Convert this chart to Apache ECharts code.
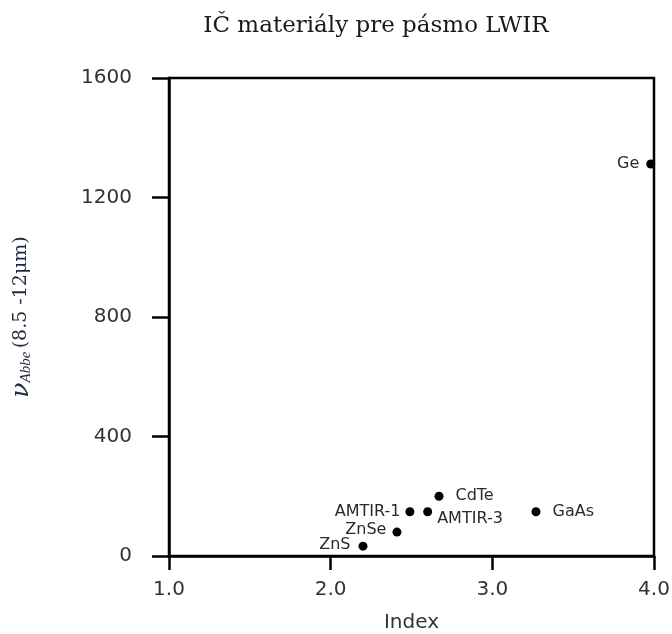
<!DOCTYPE html>
<html>
<head>
<meta charset="utf-8">
<script src="https://cdn.jsdelivr.net/npm/echarts@6/dist/echarts.min.js"></script>
<style>
  html, body { margin: 0; padding: 0; background: #fff; }
  #chart { width: 672px; height: 634px; }
</style>
</head>
<body>
<div id="chart"></div>
<script>
// materiály a ich hodnoty (odčítané z grafu)
var materials = ['Ge', 'CdTe', 'AMTIR-1', 'AMTIR-3', 'GaAs', 'ZnSe', 'ZnS'];
var indexValues = [3.98, 2.67, 2.49, 2.60, 3.27, 2.41, 2.20];
var abbeValues = [1312, 200, 148, 148, 148, 80, 33];
var xTicks = [1.0, 2.0, 3.0, 4.0];
var yTicks = [0, 400, 800, 1200, 1600];

// kde ma byt popis bodu
var labelSide = {
    'Ge': ['left', 7, [0, 0]],
    'CdTe': ['right', 12, [0, 0]],
    'AMTIR-1': ['left', 5, [0, 0]],
    'AMTIR-3': ['right', 5, [0, 7]],
    'GaAs': ['right', 12, [0, 0]],
    'ZnSe': ['left', 6, [0, -2]],
    'ZnS': ['left', 8, [0, -1]]
};

var points = materials.map(function (name, i) {
    var s = labelSide[name];
    return {
        name: name,
        value: [indexValues[i], abbeValues[i]],
        label: { position: s[0], distance: s[1], offset: s[2] }
    };
});

var chart = echarts.init(document.getElementById('chart'));

var option = {
    animation: false,
    title: {
        text: 'IČ materiály pre pásmo LWIR',
        left: 371,
        textAlign: 'center',
        top: 10,
        textStyle: {
            fontFamily: 'DejaVu Serif',
            fontWeight: 'normal',
            fontSize: 23,
            color: '#1a1a1a'
        }
    },
    grid: {
        left: 169,
        right: 18,
        top: 78,
        bottom: 78,
        outerBoundsMode: 'none',
        show: true,
        borderColor: '#000',
        borderWidth: 2.5,
        backgroundColor: 'transparent'
    },
    xAxis: {
        type: 'value',
        min: xTicks[0],
        max: xTicks[xTicks.length - 1],
        interval: 1,
        name: 'Index',
        nameLocation: 'middle',
        nameGap: 57,
        nameTextStyle: { fontFamily: 'DejaVu Sans', fontSize: 20, color: '#333' },
        axisLine: { lineStyle: { color: '#000', width: 2.5 } },
        axisTick: { length: 14, lineStyle: { color: '#000', width: 2.5 } },
        axisLabel: {
            margin: 24,
            fontFamily: 'DejaVu Sans',
            fontSize: 20,
            color: '#333',
            formatter: function (v) { return v.toFixed(1); }
        },
        splitLine: { show: false }
    },
    yAxis: {
        type: 'value',
        min: yTicks[0],
        max: yTicks[yTicks.length - 1],
        interval: 400,
        name: '{v|ν}{sub|Abbe} {n|(8.5 -12μm)}',
        nameLocation: 'middle',
        nameRotate: 90,
        nameGap: 135,
        nameTextStyle: {
            color: '#1f2a44',
            rich: {
                v: { fontFamily: 'DejaVu Serif', fontStyle: 'italic', fontSize: 25, color: '#1f2a44' },
                sub: { fontFamily: 'Liberation Serif', fontStyle: 'italic', fontSize: 15, color: '#1f2a44', padding: [10, 0, 0, 0] },
                n: { fontFamily: 'DejaVu Serif', fontSize: 19, color: '#1f2a44' }
            }
        },
        axisLine: { show: true, lineStyle: { color: '#000', width: 2.5 } },
        axisTick: { show: true, length: 17, lineStyle: { color: '#000', width: 2.5 } },
        axisLabel: {
            margin: 37,
            fontFamily: 'DejaVu Sans',
            fontSize: 20,
            color: '#333',
            formatter: function (v) { return String(v); }
        },
        splitLine: { show: false }
    },
    series: [{
        type: 'scatter',
        symbol: 'circle',
        symbolSize: 9,
        itemStyle: { color: '#000', opacity: 1 },
        label: {
            show: true,
            formatter: '{b}',
            fontFamily: 'DejaVu Sans',
            fontSize: 16,
            color: '#2a2a2a'
        },
        data: points
    }]
};

chart.setOption(option);
</script>
</body>
</html>
